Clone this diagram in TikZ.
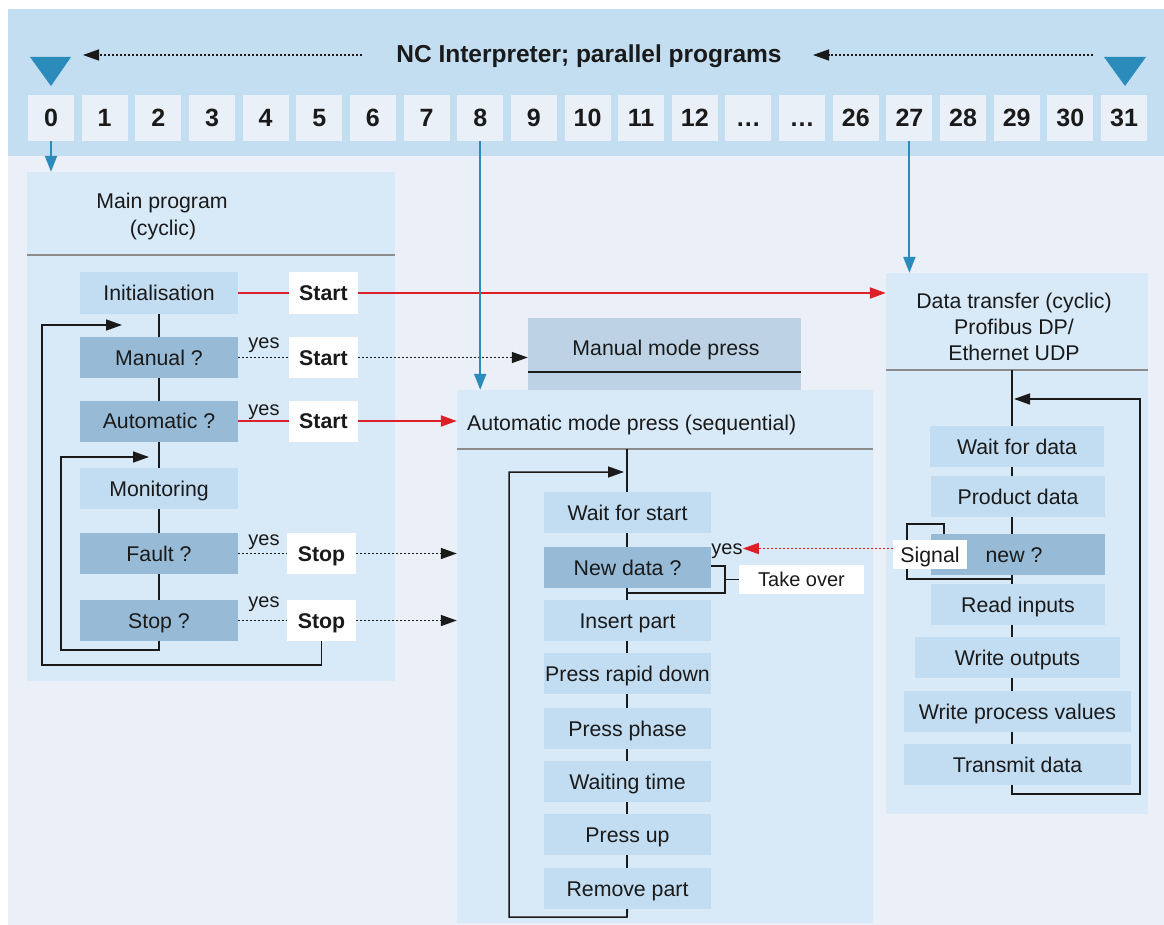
\documentclass[tikz,border=0pt]{standalone}
\usepackage{fontspec}
\setmainfont{Liberation Sans}
\usetikzlibrary{arrows.meta}
\definecolor{bgc}{HTML}{EAEFF8}
\definecolor{hdr}{HTML}{C3DDF1}
\definecolor{pnl}{HTML}{D8E9F7}
\definecolor{lbx}{HTML}{C2DCF1}
\definecolor{dbx}{HTML}{97BBD7}
\definecolor{mmp}{HTML}{BDD3E5}
\definecolor{nbx}{HTML}{EAF0F8}
\definecolor{tblue}{HTML}{2B8CBB}
\definecolor{ared}{HTML}{DC2027}
\definecolor{txt}{HTML}{1A1A1A}
\definecolor{divc}{HTML}{8C8C8C}
\pgfdeclarelayer{back}
\pgfdeclarelayer{lines}
\pgfsetlayers{back,lines,main}
\begin{document}
\begin{tikzpicture}[x=1pt,y=-1pt,
 every node/.style={text=txt, inner sep=0pt},
 rfont/.style={font=\fontsize{21.3}{26}\selectfont},
 lbox/.style={rfont, fill=lbx, minimum height=41pt, text height=15pt, text depth=0pt},
 dbox/.style={rfont, fill=dbx, minimum height=41pt, text height=15pt, text depth=0pt},
 wbox/.style={font=\fontsize{21.3}{26}\selectfont\bfseries, fill=white, minimum width=69pt, minimum height=41pt, text height=15pt, text depth=0pt},
 nbox/.style={font=\fontsize{25}{30}\selectfont\bfseries, fill=nbx, minimum width=46pt, minimum height=46pt, text height=18pt, text depth=0pt},
 panel/.style={fill=pnl},
 lab/.style={font=\fontsize{20}{24}\selectfont},
 htext/.style={rfont, anchor=base},
 conn/.style={line width=1.5pt, draw=txt},
 dotl/.style={line width=1.4pt, dash pattern=on 1.8pt off 2.2pt, draw=txt},
 redl/.style={line width=2pt, draw=ared},
 redd/.style={line width=1.4pt, dash pattern=on 2pt off 2pt, draw=ared},
 bluel/.style={line width=2pt, draw=tblue},
 arr/.style={-{Triangle[length=16pt,width=11pt]}},
 barr/.style={-{Triangle[length=16pt,width=12pt]}},
 divl/.style={line width=1.5pt, draw=divc},
]
\useasboundingbox (0,0) rectangle (1164,925);
\begin{pgfonlayer}{back}
\fill[white] (0,0) rectangle (1164,925);
\fill[bgc] (8,9) rectangle (1164,925);
\fill[hdr] (8,9) rectangle (1164,156);
\fill[tblue] (30,57) -- (71,57) -- (51,86) -- cycle;
\fill[tblue] (1104,57) -- (1146,57) -- (1125,86) -- cycle;
\node[panel, minimum width=368pt, minimum height=509pt] (mainp) at (211,426.5) {};
\node[fill=mmp, minimum width=273pt, minimum height=73pt] (mmpbox) at (664.5,354.5) {};
\node[panel, minimum width=416pt, minimum height=533pt] (autop) at (665,656.5) {};
\node[panel, minimum width=262pt, minimum height=541pt] (datap) at (1017,543.5) {};
\draw[divl] (mainp.west |- 0,255) -- (mainp.east |- 0,255);
\draw[divl] (autop.west |- 0,449) -- (autop.east |- 0,449);
\draw[divl] (datap.west |- 0,370) -- (datap.east |- 0,370);
\draw[conn] (mmpbox.west |- 0,372) -- (mmpbox.east |- 0,372);
\end{pgfonlayer}

% title and numbers
\node[font=\fontsize{24.5}{29}\selectfont\bfseries, anchor=base] (title) at (589,63) {NC Interpreter; parallel programs};
\coordinate (hlA) at (362,55); \coordinate (hlB) at (83,55);
\coordinate (hrA) at (1093,55); \coordinate (hrB) at (813,55);
\draw[dotl,arr] (hlA) -- (hlB);
\draw[dotl,arr] (hrA) -- (hrB);
\foreach \t [count=\i from 0] in {0,1,2,3,4,5,6,7,8,9,10,11,12,…,…,26,27,28,29,30,31}
  \node[nbox] (n\i) at ({51+53.65*\i},118) {\t};

% main program
\node[htext] (mh1) at (162,209) {Main program};
\node[htext] (mh2) at (163,236) {(cyclic)};
\node[lbox, minimum width=158pt] (init) at (159,293) {Initialisation};
\node[dbox, minimum width=158pt] (manq) at (159,357.5) {Manual ?};
\node[dbox, minimum width=158pt] (autq) at (159,421) {Automatic ?};
\node[lbox, minimum width=158pt] (moni) at (159,488.5) {Monitoring};
\node[dbox, minimum width=158pt] (faultq) at (159,553.5) {Fault ?};
\node[dbox, minimum width=158pt] (stopq) at (159,620.5) {Stop ?};
\node[wbox] (start1) at (323.5,293) {Start};
\node[wbox] (start2) at (323.5,357.5) {Start};
\node[wbox] (start3) at (323.5,421) {Start};
\node[wbox] (stop1) at (321.5,553.5) {Stop};
\node[wbox] (stop2) at (321.5,620.5) {Stop};
\node[lab, anchor=base] (yes1) at (264,348) {yes};
\node[lab, anchor=base] (yes2) at (264,415) {yes};
\node[lab, anchor=base] (yes3) at (264,545) {yes};
\node[lab, anchor=base] (yes4) at (264,607) {yes};

% manual mode press
\node[htext] (mmpt) at (666,355) {Manual mode press};

% automatic mode press
\node[htext, anchor=base west] (auth) at (467,430) {Automatic mode press (sequential)};
\node[lbox, minimum width=167pt] (wfs) at (627.5,512.5) {Wait for start};
\node[dbox, minimum width=167pt] (newd) at (627.5,567.5) {New data ?};
\node[lbox, minimum width=167pt] (ins) at (627.5,620.5) {Insert part};
\node[lbox, minimum width=167pt] (rapid) at (627.5,673.5) {Press rapid down};
\node[lbox, minimum width=167pt] (phase) at (627.5,728.5) {Press phase};
\node[lbox, minimum width=167pt] (waitt) at (627.5,781.5) {Waiting time};
\node[lbox, minimum width=167pt] (pup) at (627.5,834.5) {Press up};
\node[lbox, minimum width=167pt] (rem) at (627.5,888.5) {Remove part};
\node[lab, anchor=base] (yesnd) at (727,554) {yes};
\node[lab, fill=white, minimum width=125pt, minimum height=29pt, text height=14.3pt, text depth=0pt] (take) at (801.5,579.5) {Take over};

% data transfer
\node[htext] (dh1) at (1014,308) {Data transfer (cyclic)};
\node[htext] (dh2) at (1014,334) {Profibus DP/};
\node[htext] (dh3) at (1014,360.5) {Ethernet UDP};
\node[lbox, minimum width=174pt] (wfd) at (1017,446.5) {Wait for data};
\node[lbox, minimum width=174pt] (prod) at (1018,496.5) {Product data};
\node[dbox, minimum width=174pt] (newq) at (1018,554.5) {\hspace*{-8pt}new ?};
\node[lbox, minimum width=174pt] (readi) at (1018,604.5) {Read inputs};
\node[lbox, minimum width=205pt] (wout) at (1017.5,657.5) {Write outputs};
\node[lbox, minimum width=227pt] (wpv) at (1017.5,711.5) {Write process values};
\node[lbox, minimum width=227pt] (trans) at (1017.5,764.5) {Transmit data};
\node[rfont, fill=white, minimum width=74pt, minimum height=29pt, text height=15pt, text depth=0pt] (sig) at (930,554.5) {Signal};

% lines behind boxes
\coordinate (mIn1) at (122,325);
\coordinate (mIn2) at (149,457);
\coordinate (aIn) at (624,472);
\coordinate (dIn) at (1014,399);
\begin{pgfonlayer}{lines}
\draw[conn,arr] (init.south) -- (159,650) -| (61,457) -- (mIn2);
\draw[conn,arr] (stop2.south) |- (42,665) -- (42,325) -- (mIn1);
\draw[conn] (627,449) -- (627,917);
\draw[conn,arr] (rem.south) -- (627,917) -| (509,472) -- (aIn);
\draw[conn] ([yshift=1.5pt]newd.east) -- (725,566) -- (725,593) -- (627,593);
\draw[conn] (725,579.5) -- (take.west);
\draw[conn] (1012,370) -- (1012,785);
\draw[conn,arr] (1012,785) -- (1012,794) -- (1140,794) -- (1140,399) -- (dIn);
\draw[conn] (944,534) -- (944,524) -- (907,524) -- (907,579) -- (1012,579);
\end{pgfonlayer}

% connectors
\draw[redl] (init.east) -- (start1.west);
\draw[redl,arr] (start1.east) -- (start1.east -| datap.west);
\draw[dotl] (manq.east) -- (start2.west);
\draw[dotl,arr] (start2.east) -- (start2.east -| mmpbox.west);
\draw[redl] (autq.east) -- (start3.west);
\draw[redl,arr] (start3.east) -- (start3.east -| autop.west);
\draw[dotl] (faultq.east) -- (stop1.west);
\draw[dotl,arr] (stop1.east) -- (stop1.east -| autop.west);
\draw[dotl] (stopq.east) -- (stop2.west);
\draw[dotl,arr] (stop2.east) -- (stop2.east -| autop.west);
\draw[redd,arr] ([yshift=6pt]sig.west) -- ([yshift=6pt]sig.west -| yesnd.east);
\draw[bluel,barr] (n0.south) -- (n0.south |- mainp.north);
\draw[bluel,barr] (n8.south) -- (n8.south |- autop.north);
\draw[bluel,barr] (n16.south) -- (n16.south |- datap.north);
\end{tikzpicture}
\end{document}
